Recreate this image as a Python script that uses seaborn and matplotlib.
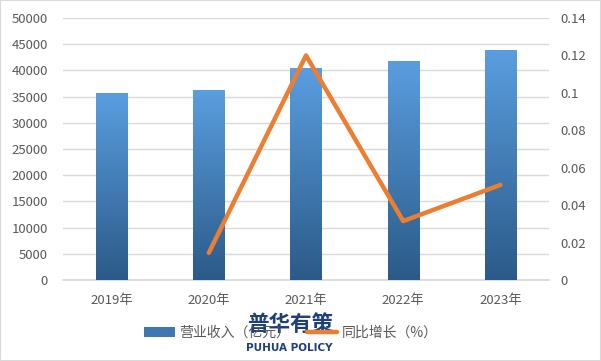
import matplotlib
matplotlib.use("Agg")
import matplotlib.pyplot as plt
import seaborn as sns
import numpy as np
import pandas as pd
from matplotlib.colors import LinearSegmentedColormap
from matplotlib.patches import Patch
from matplotlib.lines import Line2D

years = ["2019年", "2020年", "2021年", "2022年", "2023年"]
revenue = [35700, 36300, 40550, 41800, 43900]
growth_years = ["2020年", "2021年", "2022年", "2023年"]
growth = [0.0145, 0.12, 0.0315, 0.0508]
left_ticks = [0, 5000, 10000, 15000, 20000, 25000, 30000, 35000, 40000, 45000, 50000]
right_ticks = [0, 0.02, 0.04, 0.06, 0.08, 0.1, 0.12, 0.14]
right_labels = ["0", "0.02", "0.04", "0.06", "0.08", "0.1", "0.12", "0.14"]

sns.set_theme(style="white")
plt.rcParams['font.family'] = ['Noto Sans CJK SC', 'DejaVu Sans']

df = pd.DataFrame({"year": years, "revenue": revenue})
gdf = pd.DataFrame({"year": growth_years, "growth": growth})
gdf["x"] = [years.index(y) for y in growth_years]

fig = plt.figure(figsize=(6.01, 3.61), dpi=100)
ax = fig.add_axes([63/601, 1-280/361, (549-63)/601, (280-18)/361])

sns.barplot(data=df, x="year", y="revenue", ax=ax, color="#4a88c8", width=0.32, zorder=2)
ax.set_xlim(-0.5, 4.5)
ax.set_ylim(0, 50000)

cmap = LinearSegmentedColormap.from_list("g", ["#2b5a88", "#5a9ee0"])
grad = np.linspace(0, 1, 256).reshape(-1, 1)
for p in ax.patches:
    x0, y0 = p.get_x(), p.get_y()
    w, h = p.get_width(), p.get_height()
    im = ax.imshow(grad, cmap=cmap, origin="lower", aspect="auto",
                   extent=[x0, x0 + w, y0, y0 + h], zorder=3)
    im.set_clip_path(p)
    p.set_facecolor("none")
    p.set_edgecolor("none")
ax.set_xlim(-0.5, 4.5)
ax.set_ylim(0, 50000)

ax.set_yticks(left_ticks)
ax.set_yticklabels([str(t) for t in left_ticks])
ax.yaxis.grid(True, color="#d9d9d9", linewidth=1)
ax.set_axisbelow(True)
for s in ["top", "right", "left"]:
    ax.spines[s].set_visible(False)
ax.spines["bottom"].set_color("#d9d9d9")
ax.tick_params(axis="y", length=0, labelsize=9.5, colors="#595959", pad=11)
ax.tick_params(axis="x", length=0, labelsize=9.5, colors="#595959", pad=10)
ax.set_xlabel("")
ax.set_ylabel("")

ax2 = ax.twinx()
sns.lineplot(data=gdf, x="x", y="growth", ax=ax2, color="#ed7d31", linewidth=3.2, zorder=5)
ax2.set_ylim(0, 0.14)
ax2.set_xlim(-0.5, 4.5)
ax2.set_yticks(right_ticks)
ax2.set_yticklabels(right_labels)
ax2.tick_params(axis="y", length=0, labelsize=9.5, colors="#595959", pad=8)
for s in ["top", "right", "left", "bottom"]:
    ax2.spines[s].set_visible(False)
ax2.set_ylabel("")
ax2.set_xlabel("")

handles = [Patch(facecolor="#3f77b0", edgecolor="none"),
           Line2D([0], [0], color="#ed7d31", linewidth=3.2)]
fig.legend(handles, ["营业收入（亿元）", "同比增长（%）"], loc="center",
           bbox_to_anchor=(291/601, 1-333/361), ncol=2, frameon=False,
           fontsize=10, labelcolor="#595959", handlelength=2.2, columnspacing=1.2,
           handletextpad=0.3)

fig.text(290/601, 1-324/361, "普华有策", ha="center", va="center",
         fontsize=15.5, fontweight="bold", color="#1d3f7a")
fig.text(289/601, 1-348/361, "PUHUA POLICY", ha="center", va="center",
         fontsize=7.5, fontweight="bold", color="#1d3f7a", family=["DejaVu Sans"])

fig.patches.append(plt.Rectangle((0, 0), 1, 1, transform=fig.transFigure,
                                 fill=False, edgecolor="#d9d9d9", linewidth=1.5))
fig.savefig("out.png", dpi=100)
